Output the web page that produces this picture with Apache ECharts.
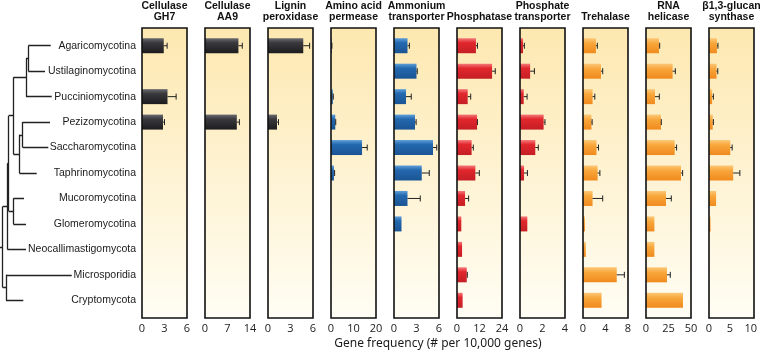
<!DOCTYPE html>
<html>
<head>
<meta charset="utf-8">
<script src="https://cdn.jsdelivr.net/npm/echarts@6/dist/echarts.min.js"></script>
<style>
  html, body { margin: 0; padding: 0; background: #fff; }
  #main { width: 760px; height: 352px; }
</style>
</head>
<body>
<div id="main"></div>
<script>
// rows, top to bottom
var categories = [
  "Agaricomycotina", "Ustilaginomycotina", "Pucciniomycotina", "Pezizomycotina",
  "Saccharomycotina", "Taphrinomycotina", "Mucoromycotina", "Glomeromycotina",
  "Neocallimastigomycota", "Microsporidia", "Cryptomycota"
];

var panelTitles = [
  "Cellulase\nGH7", "Cellulase\nAA9", "Lignin\nperoxidase", "Amino acid\npermease",
  "Ammonium\ntransporter", "Phosphatase", "Phosphate\ntransporter", "Trehalase",
  "RNA\nhelicase", "β1,3-glucan\nsynthase"
];
var axisMax = [6, 14, 6, 20, 6, 24, 4, 8, 50, 10];
var axisStep = [3, 7, 3, 10, 3, 12, 2, 4, 25, 5];
var panelColor = ["black", "black", "black", "blue", "blue", "red", "red", "orange", "orange", "orange"];

// values per panel (null = no bar)
var gh7 = [2.9, null, 3.4, 2.8, null, null, null, null, null, null, null];
var aa9 = [10.4, null, null, 9.9, null, null, null, null, null, null, null];
var lignin = [4.7, null, null, 1.2, null, null, null, null, null, null, null];
var aminoAcid = [0.3, null, 0.8, 1.9, 13.8, 1.3, null, null, null, null, null];
var ammonium = [1.8, 3.0, 1.6, 2.8, 5.2, 3.7, 1.8, 1.0, null, null, null];
var phosphatase = [10.1, 18.7, 5.7, 10.7, 7.8, 9.8, 4.3, 2.3, 2.7, 5.2, 3.0];
var phosTransporter = [0.27, 0.9, 0.33, 2.1, 1.36, 0.36, null, 0.65, null, null, null];
var trehalase = [2.3, 3.2, 1.7, 1.5, 2.4, 2.6, 1.7, 0.36, 0.5, 6.0, 3.3];
var rnaHelicase = [14.4, 29.6, 10, 16.7, 31.9, 38.9, 22.2, 9.3, 9.3, 23.3, 41.1];
var glucanSynthase = [1.9, 1.8, 0.75, 0.9, 5.1, 5.8, 1.7, 0.37, null, null, null];

// error bar lengths (0 = none)
var gh7Err = [0.45, 0, 1.15, 0.2, 0, 0, 0, 0, 0, 0, 0];
var aa9Err = [1.2, 0, 0, 0.8, 0, 0, 0, 0, 0, 0, 0];
var ligninErr = [0.85, 0, 0, 0.2, 0, 0, 0, 0, 0, 0, 0];
var aminoAcidErr = [0.1, 0, 0.2, 0.2, 2.3, 0.3, 0, 0, 0, 0, 0];
var ammoniumErr = [0.25, 0.1, 0.7, 0.15, 0.5, 1.0, 1.7, 0, 0, 0, 0];
var phosphataseErr = [0.8, 1.7, 1.6, 0.2, 0.9, 2.1, 1.9, 0, 0, 0.3, 0];
var phosTransporterErr = [0.12, 0.38, 0.3, 0.12, 0.27, 0.3, 0, 0, 0, 0, 0];
var trehalaseErr = [0.25, 0.3, 0.4, 0.12, 0.35, 0.4, 1.8, 0, 0, 1.35, 0];
var rnaHelicaseErr = [0.8, 3, 4.8, 0.3, 2.1, 1.8, 5.9, 0, 0, 3.7, 0];
var glucanSynthaseErr = [0.25, 0.3, 0.3, 0.15, 0.45, 1.6, 0, 0, 0, 0, 0];

// dendrogram: [name, node depth, children]; numbers are row indexes
var tree = ["root", 2.7, [
  ["G", 7.3, [
    ["G1", 8.7, [
      ["E", 13.3, [
        ["B", 26, [["A", 28.3, [0, 1]], 2]],
        ["D", 19.3, [["C", 22.7, [3, 4]], 5]]
      ]],
      ["F", 13.3, [6, 7]]
    ]],
    8
  ]],
  ["H", 6, [9, 10]]
]];
var tipDepth = [50.7, 45, 51.7, 50, 48.3, 36.7, 24, 26, 26, 71.7, 23.3];

var panelValues = [gh7, aa9, lignin, aminoAcid, ammonium, phosphatase, phosTransporter, trehalase, rnaHelicase, glucanSynthase];
var panelErrors = [gh7Err, aa9Err, ligninErr, aminoAcidErr, ammoniumErr, phosphataseErr, phosTransporterErr, trehalaseErr, rnaHelicaseErr, glucanSynthaseErr];

var LG = echarts.graphic.LinearGradient;
var barFill = {
  black: new LG(0, 0, 0, 1, [
    { offset: 0, color: "#6a6a70" }, { offset: 0.3, color: "#3a3a3e" }, { offset: 1, color: "#1c1c1e" }
  ]),
  blue: new LG(0, 0, 0, 1, [
    { offset: 0, color: "#5fa0da" }, { offset: 0.3, color: "#2468ae" }, { offset: 1, color: "#1a5494" }
  ]),
  red: new LG(0, 0, 0, 1, [
    { offset: 0, color: "#f47a7a" }, { offset: 0.3, color: "#e2272e" }, { offset: 1, color: "#c41e24" }
  ]),
  orange: new LG(0, 0, 0, 1, [
    { offset: 0, color: "#fcc877" }, { offset: 0.35, color: "#f8a63a" }, { offset: 1, color: "#f08a1e" }
  ])
};

var panelLeft = 142, panelStep = 63, panelWidth = 45;
var gridTop = 33, gridHeight = 280;

var grids = [], xAxes = [], yAxes = [], series = [], graphics = [];

for (var i = 0; i < panelTitles.length; i++) {
  var left = panelLeft + panelStep * i;
  grids.push({ left: left, top: gridTop, width: panelWidth, height: gridHeight });
  xAxes.push({
    gridIndex: i,
    type: "value",
    min: 0,
    max: axisMax[i],
    interval: axisStep[i],
    offset: 5,
    axisLine: { show: false },
    axisTick: { show: false },
    splitLine: { show: false },
    axisLabel: { color: "#222", fontSize: 11, fontFamily: "Open Sans", margin: 5 }
  });
  yAxes.push({
    gridIndex: i,
    type: "category",
    data: categories,
    inverse: true,
    axisLine: { show: false },
    axisTick: { show: false },
    axisLabel: {
      show: i === 0,
      margin: 6,
      color: "#1a1a1a",
      fontSize: 10.5,
      fontFamily: "Liberation Sans"
    }
  });
  series.push({
    type: "bar",
    xAxisIndex: i,
    yAxisIndex: i,
    barWidth: 15,
    itemStyle: { color: barFill[panelColor[i]] },
    data: panelValues[i]
  });
  var errData = [];
  for (var r = 0; r < categories.length; r++) {
    if (panelValues[i][r] != null && panelErrors[i][r] > 0) {
      errData.push([panelValues[i][r], panelValues[i][r] + panelErrors[i][r], r]);
    }
  }
  series.push({
    type: "custom",
    xAxisIndex: i,
    yAxisIndex: i,
    z: 5,
    renderItem: function (params, api) {
      var p1 = api.coord([api.value(0), api.value(2)]);
      var p2 = api.coord([api.value(1), api.value(2)]);
      var st = { stroke: "#222", lineWidth: 1 };
      return {
        type: "group",
        children: [
          { type: "line", shape: { x1: p1[0], y1: p1[1], x2: p2[0], y2: p2[1] }, style: st },
          { type: "line", shape: { x1: p2[0], y1: p2[1] - 3, x2: p2[0], y2: p2[1] + 3 }, style: st }
        ]
      };
    },
    encode: { x: [0, 1], y: 2 },
    data: errData
  });
  // panel background and frame
  graphics.push({
    type: "rect",
    z: -10,
    shape: { x: left, y: 28, width: panelWidth, height: 290 },
    style: {
      fill: new LG(0, 0, 0, 1, [
        { offset: 0, color: "#fde8b0" }, { offset: 1, color: "#fffdf4" }
      ])
    }
  });
  graphics.push({
    type: "rect",
    z: 100,
    shape: { x: left, y: 28, width: panelWidth, height: 290 },
    style: { fill: null, stroke: "#111", lineWidth: 1.6 }
  });
  var twoLines = panelTitles[i].indexOf("\n") >= 0;
  graphics.push({
    type: "text",
    x: left + panelWidth / 2,
    y: twoLines ? 0 : 11.5,
    style: {
      text: panelTitles[i],
      align: "center",
      verticalAlign: "top",
      lineHeight: 11.6,
      font: "bold 10.5px 'Liberation Sans'",
      fill: "#111"
    }
  });
}

graphics.push({
  type: "text",
  x: 438,
  y: 344,
  style: {
    text: "Gene frequency (# per 10,000 genes)",
    align: "center",
    verticalAlign: "middle",
    font: "12px 'Noto Sans'",
    fill: "#1a1a1a"
  }
});

// dendrogram grid
var treeIndex = panelTitles.length;
grids.push({ left: 0, top: gridTop, width: 80, height: gridHeight });
xAxes.push({ gridIndex: treeIndex, type: "value", min: 0, max: 80, show: false });
yAxes.push({ gridIndex: treeIndex, type: "value", min: -0.5, max: 10.5, inverse: true, show: false });

var treeLines = [];
function walk(node) {
  if (typeof node === "number") {
    return { x: tipDepth[node], y: node };
  }
  var x = node[1];
  var kids = node[2].map(walk);
  var ys = kids.map(function (k) { return k.y; });
  var y0 = Math.min.apply(null, ys), y1 = Math.max.apply(null, ys);
  treeLines.push({ coords: [[x, y0], [x, y1]] });
  kids.forEach(function (k) {
    treeLines.push({ coords: [[x, k.y], [k.x, k.y]] });
  });
  return { x: x, y: (y0 + y1) / 2 };
}
var rootPos = walk(tree);
treeLines.push({ coords: [[0, rootPos.y], [rootPos.x, rootPos.y]] });

series.push({
  type: "lines",
  coordinateSystem: "cartesian2d",
  xAxisIndex: treeIndex,
  yAxisIndex: treeIndex,
  silent: true,
  lineStyle: { color: "#222", width: 1.3, opacity: 1 },
  data: treeLines
});

var chart = echarts.init(document.getElementById("main"));
chart.setOption({
  animation: false,
  grid: grids,
  xAxis: xAxes,
  yAxis: yAxes,
  graphic: graphics,
  series: series
});
</script>
</body>
</html>
